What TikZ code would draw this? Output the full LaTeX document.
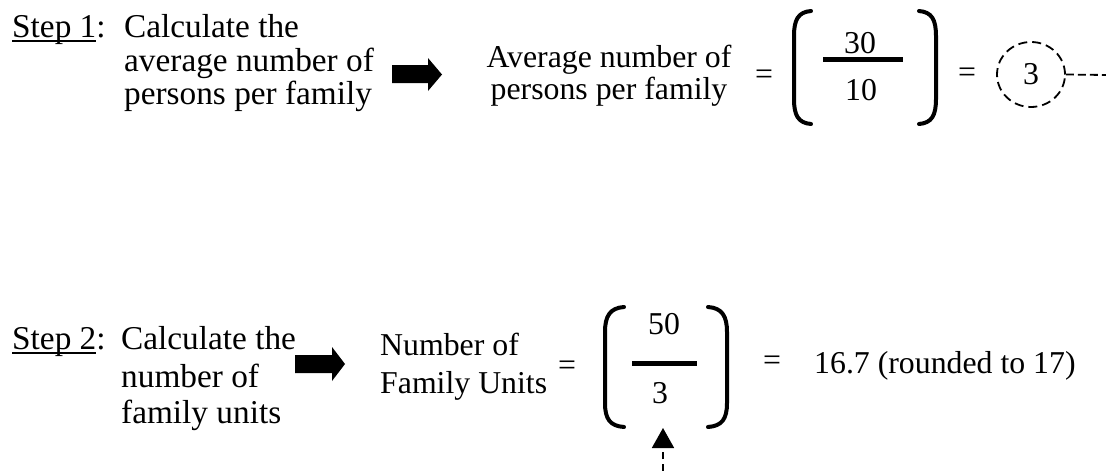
\documentclass[tikz,border=0pt]{standalone}
\usepackage{fontspec}
\setmainfont{Liberation Serif}
\usetikzlibrary{shapes.geometric,arrows.meta}
\newcommand\ulstep[1]{\setbox0\hbox{#1}\rlap{\rule[-5pt]{\wd0}{2pt}}\box0}
\begin{document}
\begin{tikzpicture}[x=1pt,y=-1pt,
  big/.style={font=\fontsize{33.3}{36}\selectfont, inner sep=0pt},
  med/.style={font=\fontsize{31.8}{36}\selectfont, inner sep=0pt},
  paren/.style={line width=4pt, line cap=round},
  fbar/.style={line width=5pt},
  blockarrow/.style={fill=black},
  dsh/.style={dash pattern=on 8pt off 4pt, line width=1.8pt},
  dshcirc/.style={draw, ellipse, dash pattern=on 9pt off 5pt, line width=1.8pt,
     minimum width=68pt, minimum height=65pt}]
\useasboundingbox (0,0) rectangle (1106,471);
\fill[white] (0,0) rectangle (1106,471);

% ---------- Step 1 ----------
\node[big, anchor=base west] (s1) at (12,37) {\ulstep{Step 1}:};
\node[big, anchor=base west] (s1a) at (124,37) {Calculate the};
\node[big, anchor=base west] (s1b) at (124,71) {average number of};
\node[big, anchor=base west] (s1c) at (124,104) {persons per family};

\fill[blockarrow] (392,65) -- (428,65) -- (428,58) -- (442,74.5) -- (428,91) -- (428,83) -- (392,83) -- cycle;

\node[med, anchor=base] (a1) at (609,67) {Average number of};
\node[med, anchor=base] (a2) at (609,99) {persons per family};
\node[med, anchor=base] (eq1) at (764,84) {=};

\draw[paren] (811,11) .. controls (798,12) and (794,20) .. (794,36) -- (794,99) .. controls (794,115) and (798,123) .. (811,124);
\draw[paren] (919,11) .. controls (932,12) and (936,20) .. (936,36) -- (936,99) .. controls (936,115) and (932,123) .. (919,124);
\node[med, anchor=base] (n30) at (860,53) {30};
\draw[fbar] (823,59) -- (903,59);
\node[med, anchor=base] (n10) at (861,100) {10};

\node[med, anchor=base] (eq2) at (967,82) {=};
\node[med, dshcirc] (c3) at (1031,74.5) {3};
\coordinate (redge) at (1106,75);
\draw[dsh] (c3.east) -- (redge);

% ---------- Step 2 ----------
\node[big, anchor=base west] (s2) at (12,349) {\ulstep{Step 2}:};
\node[big, anchor=base west] (s2a) at (121,349) {Calculate the};
\node[big, anchor=base west] (s2b) at (121,387) {number of};
\node[big, anchor=base west] (s2c) at (121,423) {family units};

\fill[blockarrow] (295,355) -- (332,355) -- (332,347) -- (345,364) -- (332,381) -- (332,373) -- (295,373) -- cycle;

\node[med, anchor=base west] (f1) at (380,355) {Number of};
\node[med, anchor=base west] (f2) at (380,393) {Family Units};
\node[med, anchor=base] (eq3) at (567,375) {=};

\draw[paren] (624,307) .. controls (610,308) and (605,316) .. (605,332) -- (605,403) .. controls (605,419) and (610,426) .. (624,427);
\draw[paren] (708,307) .. controls (722,308) and (727,316) .. (727,332) -- (727,403) .. controls (727,419) and (722,426) .. (708,427);
\node[med, anchor=base] (n50) at (664,334) {50};
\draw[fbar] (632,363) -- (697,363);
\node[med, anchor=base] (n3) at (660,403) {3};

\node[med, anchor=base] (eq4) at (772,370) {=};
\node[med, anchor=base west] (res) at (814,373) {16.7 (rounded to 17)};

\coordinate (bedge) at (663,471);
\coordinate (br2) at (663,428);
\draw[dash pattern=on 7pt off 5pt, line width=1.8pt, -{Triangle[length=20pt,width=22pt]}] (bedge) -- (br2);
\end{tikzpicture}
\end{document}
